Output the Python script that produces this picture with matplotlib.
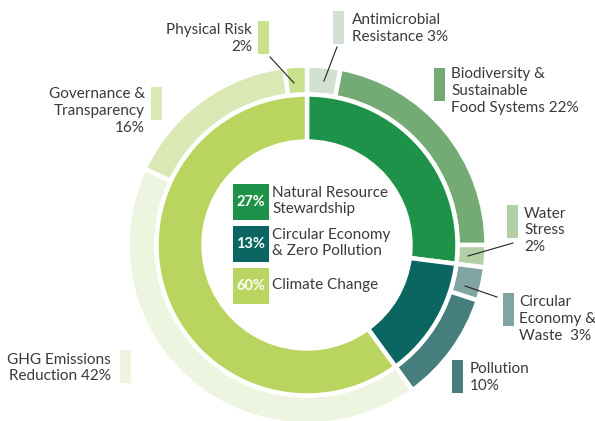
import matplotlib.pyplot as plt
from matplotlib.patches import Rectangle

plt.rcParams['font.family'] = ['Lato', 'DejaVu Sans']

# inner ring: themes
inner_names = ['Natural Resource\nStewardship', 'Circular Economy\n& Zero Pollution', 'Climate Change']
inner_values = [27, 13, 60]
inner_colors = ['#1f9249', '#0b6662', '#b9d45f']

# outer ring: sub-themes
outer_names = ['Antimicrobial\nResistance', 'Biodiversity &\nSustainable\nFood Systems', 'Water\nStress',
               'Circular\nEconomy &\nWaste ', 'Pollution', 'GHG Emissions\nReduction',
               'Governance &\nTransparency', 'Physical Risk']
outer_values = [3, 22, 2, 3, 10, 42, 16, 2]
outer_colors = ['#d3e1d2', '#74ab74', '#b3cfa6', '#80a4a1', '#457e7c', '#edf4e0', '#d9e8b4', '#c9e08d']

W, H = 595, 421
fig = plt.figure(figsize=(W / 100, H / 100), dpi=100)
ax = fig.add_axes([0, 0, 1, 1])

def Y(y):
    return H - y

cx, cy = 307, Y(245)
lw = 3.2
ax.pie(outer_values, colors=outer_colors, radius=179.5, center=(cx, cy), startangle=90,
       counterclock=False, wedgeprops=dict(width=29, edgecolor='white', linewidth=lw))
ax.pie(inner_values, colors=inner_colors, radius=150.5, center=(cx, cy), startangle=90,
       counterclock=False, wedgeprops=dict(width=47, edgecolor='white', linewidth=lw))
ax.set_xlim(0, W)
ax.set_ylim(0, H)
ax.set_aspect('equal')
ax.axis('off')

txt = '#3a3a3a'
fs = 11
ls = 1.27

# centre legend
box_top = [184, 226, 268]
for name, v, c, top in zip(inner_names, inner_values, inner_colors, box_top):
    ax.add_patch(Rectangle((233, Y(top + 36)), 36, 36, color=c, lw=0))
    ax.text(251, Y(top + 18), f'{v}%', color='white', fontsize=10.5, fontweight='bold',
            ha='center', va='center')
    ax.text(272, Y(top + 17), name, color=txt, fontsize=fs, ha='left', va='center',
            linespacing=ls)

# outer labels: (text x, text centre y, align, sep, swatch x, swatch top)
layout = [
    (352, 28.5, 'left', ' ', 333, 11),
    (451, 91, 'left', ' ', 434, 68),
    (524, 230.5, 'left', '\n', 507, 205),
    (519, 319, 'left', ' ', 503, 293),
    (470, 377.5, 'left', '\n', 452, 360),
    (111, 368, 'right', ' ', 120, 350),
    (145, 111, 'right', '\n', 151, 87),
    (252, 38.5, 'right', '\n', 258, 21),
]
for name, v, c, (tx, ty, ha, sep, sx, st) in zip(outer_names, outer_values, outer_colors, layout):
    ax.text(tx, Y(ty), f'{name}{sep}{v}%', color=txt, fontsize=fs, ha=ha, va='center',
            multialignment=ha, linespacing=ls)
    ax.add_patch(Rectangle((sx, Y(st + 33)), 11, 33, color=c, lw=0))

# leader lines
leaders = [((270, 57), (294, 83)), ((337, 47), (324, 81)),
           ((513, 243), (468, 256)), ((465, 286), (497, 297))]
for (x0, y0), (x1, y1) in leaders:
    ax.plot([x0, x1], [Y(y0), Y(y1)], color='#222222', lw=0.8)

fig.savefig('out.png', dpi=100)
